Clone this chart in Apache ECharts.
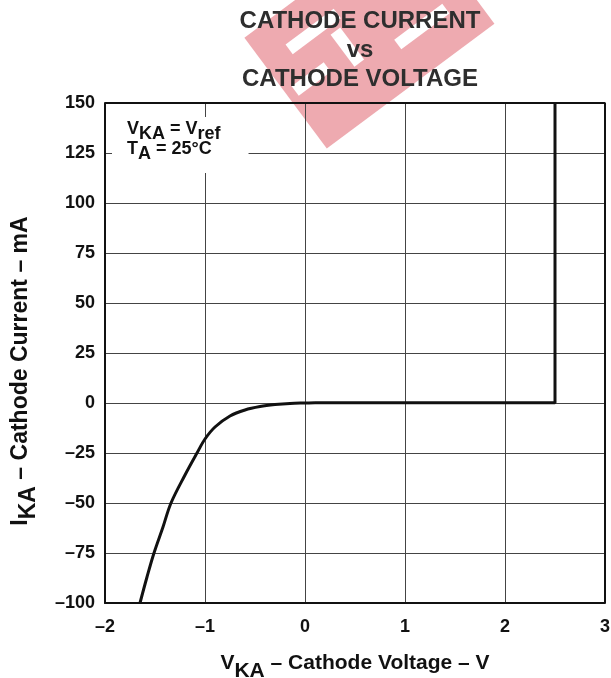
<!DOCTYPE html>
<html>
<head>
<meta charset="utf-8">
<script src="https://cdn.jsdelivr.net/npm/echarts@6/dist/echarts.min.js"></script>
<style>
  html, body { margin: 0; padding: 0; background: #fff; }
  #main { width: 611px; height: 678px; }
</style>
</head>
<body>
<div id="main"></div>
<script>
// cathode voltage (V) vs cathode current (mA)
var curveV = [-1.65, -1.58, -1.51, -1.42, -1.34, -1.2, -1.08, -1.0, -0.9, -0.75, -0.6, -0.45, -0.3, -0.15, 0, 0.1];
var curveI = [-100, -87, -75, -62, -50, -36, -25, -18, -12, -6.5, -3.5, -1.8, -0.8, -0.2, 0, 0.1];
var stepV = [0.1, 2.5, 2.5];
var stepI = [0.1, 0.1, 150];
var xTicks = [-2, -1, 0, 1, 2, 3];
var yTicks = [-100, -75, -50, -25, 0, 25, 50, 75, 100, 125, 150];

function pairs(xs, ys) { return xs.map(function (v, i) { return [v, ys[i]]; }); }
var font = '"Liberation Sans", Arial, sans-serif';

// watermark: tilted red block with white bars (local coords)
var wmBars = [[-75, -39, 60, 12], [15, 22, 60, 12], [-95, -2, 40, 12], [-33, -20, 12, 40]];

var chart = echarts.init(document.getElementById('main'));
var option = {
    animation: false,
    backgroundColor: '#fff',
    textStyle: { fontFamily: font },
    title: {
        text: 'CATHODE CURRENT\nvs\nCATHODE VOLTAGE',
        left: 355,
        top: 2,
        textAlign: 'center',
        textStyle: { fontFamily: font, fontSize: 24, fontWeight: 'bold', color: '#2e2e2e', lineHeight: 29 }
    },
    graphic: [
        {
            type: 'group',
            x: 369, y: 31,
            rotation: 0.64,
            z: -10,
            silent: true,
            children: [
                { type: 'rect', shape: { x: -104, y: -69, width: 209, height: 138 }, style: { fill: '#eeaab0' } }
            ].concat(wmBars.map(function (b) {
                return { type: 'rect', shape: { x: b[0], y: b[1], width: b[2], height: b[3] }, style: { fill: '#fff' } };
            }))
        },
        {
            type: 'text',
            z: 100,
            left: 112,
            top: 117,
            style: {
                text: '{m|V}{s|KA}{m| = V}{s|ref}\n{m|T}{s|A}{m| = 25°C}',
                backgroundColor: '#fff',
                padding: [3, 28, 13, 15],
                rich: {
                    m: { font: 'bold 18px ' + font, fill: '#111', lineHeight: 20, verticalAlign: 'top' },
                    s: { font: 'bold 18px ' + font, fill: '#111', lineHeight: 20, verticalAlign: 'top', padding: [5, 0, 0, 0] }
                }
            }
        }
    ],
    grid: { left: 105, right: 6, top: 103, bottom: 75, show: false, outerBoundsMode: 'none', containLabel: false },
    xAxis: {
        type: 'value',
        min: -2, max: 3, interval: 1,
        name: '{m|V}{s|KA}{m| – Cathode Voltage – V}',
        nameLocation: 'middle',
        nameGap: 50,
        nameTextStyle: {
            rich: {
                m: { fontFamily: font, fontSize: 21, fontWeight: 'bold', color: '#111', lineHeight: 28, verticalAlign: 'top' },
                s: { fontFamily: font, fontSize: 21, fontWeight: 'bold', color: '#111', lineHeight: 28, verticalAlign: 'top', padding: [8, 0, 0, 0] }
            }
        },
        axisLine: { show: true, onZero: false, lineStyle: { color: '#111', width: 2 } },
        axisTick: { show: false },
        splitLine: { show: true, lineStyle: { color: '#444', width: 1 } },
        axisLabel: {
            fontFamily: font, fontSize: 18, fontWeight: 'bold', color: '#111', margin: 15,
            formatter: function (v) { return xTicks.indexOf(v) >= 0 ? String(v).replace('-', '\u2013') : ''; }
        }
    },
    yAxis: {
        type: 'value',
        min: -100, max: 150, interval: 25,
        name: '{m|I}{s|KA}{m| – Cathode Current – mA}',
        nameLocation: 'middle',
        nameGap: 68,
        nameRotate: 90,
        nameTextStyle: {
            padding: [0, 36, 0, 0],
            rich: {
                m: { fontFamily: font, fontSize: 23, fontWeight: 'bold', color: '#111', lineHeight: 28, verticalAlign: 'top' },
                s: { fontFamily: font, fontSize: 23, fontWeight: 'bold', color: '#111', lineHeight: 28, verticalAlign: 'top', padding: [8, 0, 0, 0] }
            }
        },
        axisLine: { show: true, onZero: false, lineStyle: { color: '#111', width: 2 } },
        axisTick: { show: false },
        splitLine: { show: true, lineStyle: { color: '#444', width: 1 } },
        axisLabel: {
            fontFamily: font, fontSize: 18, fontWeight: 'bold', color: '#111', margin: 10,
            formatter: function (v) { return yTicks.indexOf(v) >= 0 ? String(v).replace('-', '\u2013') : ''; }
        }
    },
    series: [
        {
            type: 'line',
            data: pairs(curveV, curveI),
            smooth: 0.35,
            showSymbol: false,
            lineStyle: { color: '#111', width: 3 },
            z: 5
        },
        {
            type: 'line',
            data: pairs(stepV, stepI),
            showSymbol: false,
            lineStyle: { color: '#111', width: 3 },
            z: 5
        },
        {
            // right and top frame lines
            type: 'line',
            data: [[-2, 150], [3, 150], [3, -100]],
            showSymbol: false,
            silent: true,
            lineStyle: { color: '#111', width: 2 },
            z: 4
        }
    ]
};
chart.setOption(option);
window.onresize = function () { chart.resize(); };
</script>
</body>
</html>
